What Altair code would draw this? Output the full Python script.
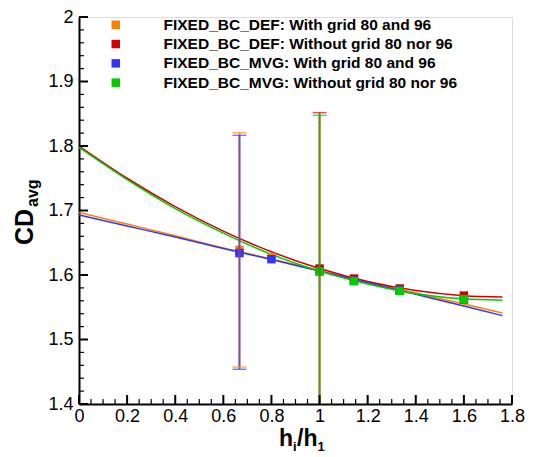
import altair as alt
import pandas as pd

# ---------------- data ----------------
series = [
    "FIXED_BC_DEF: With grid 80 and 96",
    "FIXED_BC_DEF: Without grid 80 nor 96",
    "FIXED_BC_MVG: With grid 80 and 96",
    "FIXED_BC_MVG: Without grid 80 nor 96",
]
colors = ["#ff8000", "#d00000", "#3333ff", "#00cc00"]

# fitted curves (read at these abscissae)
fit_x = [0.0, 0.2, 0.4, 0.6, 0.8, 1.0, 1.2, 1.4, 1.6, 1.76]
fit_def_with = [1.697, 1.679, 1.661, 1.642, 1.625, 1.607, 1.589, 1.572, 1.555, 1.541]
fit_def_without = [1.800, 1.750, 1.706, 1.668, 1.636, 1.610, 1.590, 1.576, 1.568, 1.566]
fit_mvg_with = [1.693, 1.676, 1.659, 1.641, 1.624, 1.606, 1.588, 1.570, 1.552, 1.537]
fit_mvg_without = [1.798, 1.748, 1.703, 1.665, 1.632, 1.606, 1.586, 1.571, 1.563, 1.561]

# simulation points
x_with = [0.667, 0.8, 1.0, 1.143, 1.333, 1.6]
x_without = [1.0, 1.143, 1.333, 1.6]
pts_def_with = [1.639, 1.628, 1.607, 1.592, 1.577, 1.562]
pts_def_without = [1.610, 1.5945, 1.579, 1.568]
pts_mvg_with = [1.634, 1.6245, 1.606, 1.591, 1.576, 1.562]
pts_mvg_without = [1.6055, 1.5905, 1.5755, 1.5625]

# error bars
err_x = [0.667, 1.0, 0.667, 1.0]
err_lo = [1.4573, 1.368, 1.4538, 1.364]
err_hi = [1.8207, 1.8517, 1.8166, 1.8476]

# axis ticks
x_major = [0.0, 0.2, 0.4, 0.6, 0.8, 1.0, 1.2, 1.4, 1.6, 1.8]
y_major = [1.4, 1.5, 1.6, 1.7, 1.8, 1.9, 2.0]
x_minor = [round(0.05 * i, 2) for i in range(37) if i % 4 != 0]
y_minor = [round(1.4 + 0.02 * i, 2) for i in range(31) if i % 5 != 0]

# ---------------- tables ----------------
fits = [fit_def_with, fit_def_without, fit_mvg_with, fit_mvg_without]
pts = [pts_def_with, pts_def_without, pts_mvg_with, pts_mvg_without]
pxs = [x_with, x_without, x_with, x_without]

line_df = pd.DataFrame(
    [{"s": s, "k": i, "x": xv, "y": yv}
     for i, (s, f) in enumerate(zip(series, fits)) for xv, yv in zip(fit_x, f)]
)
pt_df = pd.DataFrame(
    [{"s": s, "k": i, "x": xv, "y": yv}
     for i, (s, xs, ys) in enumerate(zip(series, pxs, pts)) for xv, yv in zip(xs, ys)]
)
err_df = pd.DataFrame({"s": series, "x": err_x, "lo": err_lo, "hi": err_hi})

W, H = 433, 387
FONT = "Liberation Sans"

xscale = alt.Scale(domain=[0, 1.8], nice=False, zero=False)
yscale = alt.Scale(domain=[1.4, 2.0], nice=False, zero=False)
cscale = alt.Scale(domain=series, range=colors)

xaxis = alt.Axis(values=x_major, format=".1~f", ticks=False, grid=False, domainColor="black",
                 domainWidth=2, labelFont=FONT, labelFontSize=18, labelColor="black",
                 labelPadding=3, labelFlush=False, labelOverlap=False, title=None)
yaxis = alt.Axis(values=y_major, format=".1~f", ticks=False, grid=False, domainColor="black",
                 domainWidth=2, labelFont=FONT, labelFontSize=18, labelColor="black",
                 labelPadding=6, labelFlush=False, labelOverlap=False, title=None)

X = alt.X("x:Q", scale=xscale, axis=xaxis)
Y = alt.Y("y:Q", scale=yscale, axis=yaxis)

lines = alt.Chart(line_df).mark_line(strokeWidth=1.5, clip=True, interpolate="monotone").encode(
    x=X, y=Y,
    color=alt.Color("s:N", scale=cscale, legend=None),
    order="x:Q",
)

points = alt.Chart(pt_df).mark_point(shape="square", filled=True, size=72, opacity=1,
                                      clip=True).encode(
    x=X, y=Y,
    color=alt.Color(
        "s:N", scale=cscale,
        legend=alt.Legend(
            title=None, orient="none", legendX=29, legendY=0, symbolType="square",
            symbolSize=72, symbolStrokeWidth=0, symbolOpacity=1,
            labelFont=FONT, labelFontSize=15.5, labelFontWeight="bold", labelColor="black",
            labelOffset=40, rowPadding=2.3, padding=0, labelLimit=400,
        ),
    ),
)

err_rules = alt.Chart(err_df).mark_rule(strokeWidth=2, opacity=0.72, clip=True).encode(
    x=alt.X("x:Q", scale=xscale, axis=xaxis),
    y=alt.Y("lo:Q", scale=yscale, axis=yaxis),
    y2="hi:Q",
    color=alt.Color("s:N", scale=cscale, legend=None),
)
cap_lo = alt.Chart(err_df).mark_tick(orient="horizontal", size=14, thickness=1.5,
                                     opacity=0.65, clip=True).encode(
    x=alt.X("x:Q", scale=xscale, axis=xaxis),
    y=alt.Y("lo:Q", scale=yscale, axis=yaxis),
    color=alt.Color("s:N", scale=cscale, legend=None),
)
cap_hi = alt.Chart(err_df).mark_tick(orient="horizontal", size=14, thickness=1.5,
                                     opacity=0.65, clip=True).encode(
    x=alt.X("x:Q", scale=xscale, axis=xaxis),
    y=alt.Y("hi:Q", scale=yscale, axis=yaxis),
    color=alt.Color("s:N", scale=cscale, legend=None),
)

# inward axis ticks
ymaj = alt.Chart(pd.DataFrame({"y": y_major})).mark_rule(color="black", strokeWidth=2).encode(
    y=alt.Y("y:Q", scale=yscale, axis=yaxis), x=alt.value(0), x2=alt.value(9))
ymin = alt.Chart(pd.DataFrame({"y": y_minor})).mark_rule(color="black", strokeWidth=1.2).encode(
    y=alt.Y("y:Q", scale=yscale, axis=yaxis), x=alt.value(0), x2=alt.value(5))
xmaj = alt.Chart(pd.DataFrame({"x": x_major})).mark_rule(color="black", strokeWidth=2).encode(
    x=alt.X("x:Q", scale=xscale, axis=xaxis), y=alt.value(H), y2=alt.value(H - 9))
xmin = alt.Chart(pd.DataFrame({"x": x_minor})).mark_rule(color="black", strokeWidth=1.2).encode(
    x=alt.X("x:Q", scale=xscale, axis=xaxis), y=alt.value(H), y2=alt.value(H - 5))

one = pd.DataFrame({"a": [0]})


def txt(t, x, y, size, align="left", angle=0):
    kw = dict(text=t, font=FONT, fontSize=size, fontWeight="bold", color="black",
              align=align, baseline="alphabetic")
    if angle:
        kw["angle"] = angle
    return alt.Chart(one).mark_text(**kw).encode(x=alt.value(x), y=alt.value(y))


# axis titles
x0 = 200
xb = H + 42
xt = [
    txt("h", x0, xb, 23),
    txt("i", x0 + 14, xb + 5, 13),
    txt("/", x0 + 18, xb, 23),
    txt("h", x0 + 24.5, xb, 23),
    txt("1", x0 + 38.5, xb + 5, 13),
]
yt = [
    txt("CD", -46, 210, 25, align="center", angle=270),
    txt("avg", -41, 190, 16, align="left", angle=270),
]

chart = alt.layer(lines, points, err_rules, cap_lo, cap_hi, ymaj, ymin, xmaj, xmin, *xt, *yt).properties(
    width=W, height=H,
    padding={"left": 71, "top": 9, "right": 20, "bottom": 54},
    autosize=alt.AutoSizeParams(type="none"),
).resolve_legend(color="independent").configure_view(stroke=None).configure(background="white")

chart.save("out.html", embed_options={"renderer": "svg", "actions": False})
